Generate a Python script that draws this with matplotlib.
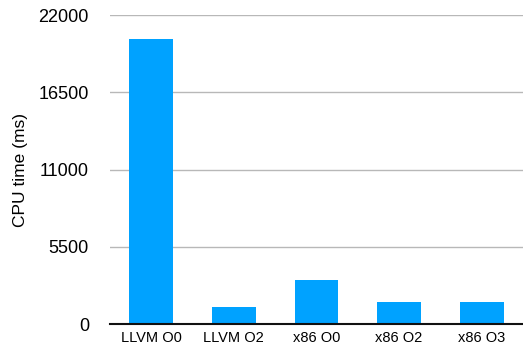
import matplotlib
matplotlib.use("Agg")
import matplotlib.pyplot as plt

categories = ["LLVM O0", "LLVM O2", "x86 O0", "x86 O2", "x86 O3"]
cpu_ms = [20300, 1200, 3130, 1570, 1570]
yticks = [0, 5500, 11000, 16500, 22000]

plt.rcParams["font.family"] = ["Liberation Sans", "DejaVu Sans"]

fig = plt.figure(figsize=(5.23, 3.5), dpi=100)
ax = fig.add_axes([0.21, 0.074, 0.79, 0.883])

x = range(len(categories))
ax.bar(x, cpu_ms, width=0.53, color="#00a2ff", zorder=3)

ax.set_xlim(-0.5, len(categories) - 0.5)
ax.set_ylim(0, 22000)
ax.set_yticks(yticks)
ax.set_yticklabels([str(t) for t in yticks], fontsize=13)
ax.set_xticks(list(x))
ax.set_xticklabels(categories, fontsize=10.5)
ax.set_ylabel("CPU time (ms)", fontsize=12.5, labelpad=8)

ax.grid(axis="y", color="#b8b8b8", linewidth=1, zorder=0)
for side in ["top", "right", "left"]:
    ax.spines[side].set_visible(False)
ax.spines["bottom"].set_color("#111111")
ax.spines["bottom"].set_linewidth(1.5)
ax.spines["bottom"].set_zorder(4)
ax.tick_params(axis="both", length=0)
ax.tick_params(axis="y", pad=15)
ax.tick_params(axis="x", pad=5)

fig.savefig("out.png", dpi=100)
